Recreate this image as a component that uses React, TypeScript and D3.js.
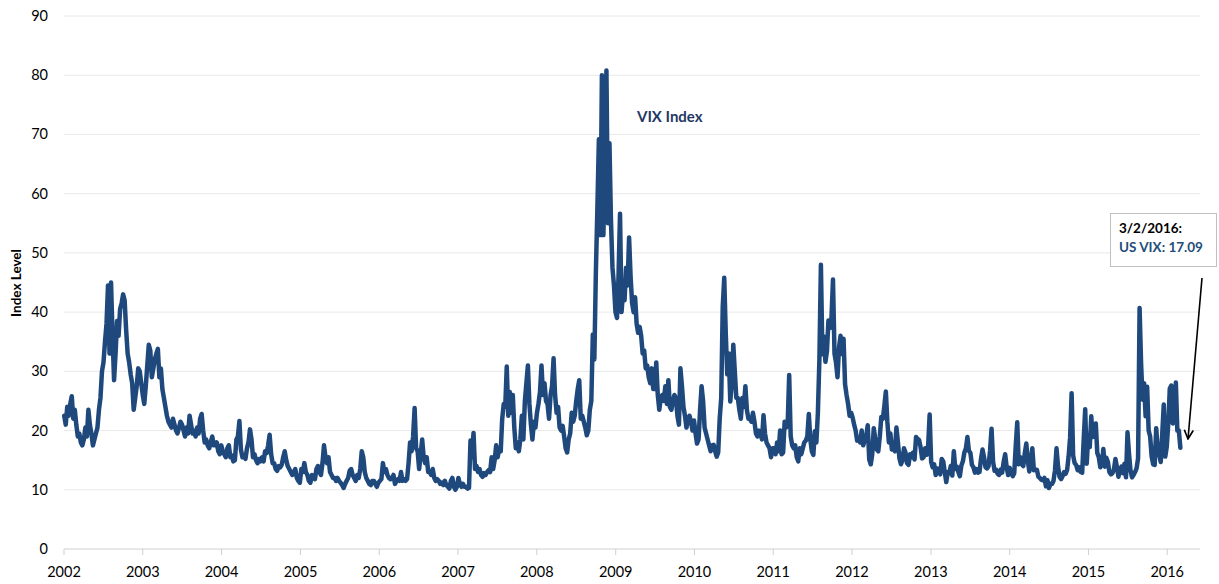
import * as d3 from "d3";
import { useEffect, useRef } from "react";

// weekly VIX readings (Wednesdays)
const vix2002 = [22.5, 21.0, 24.0, 22.5, 24.5, 25.8, 22.0, 23.5, 21.0, 19.0, 19.5, 18.0, 17.5, 18.5, 20.5, 19.0, 23.5, 21.0, 19.5, 17.5, 18.5, 19.5, 20.5, 23.5, 25.5, 30.0, 31.5, 35.0, 38.0, 44.5, 33.0, 45.0, 36.0, 28.5, 33.0, 38.5, 36.0, 40.5, 41.5, 43.0, 42.0, 37.0, 33.0, 31.5, 29.5, 28.0, 23.5, 25.5, 27.5, 30.5, 30.0, 28.0];
const vix2003 = [26.0, 24.5, 27.5, 31.0, 34.5, 33.5, 29.0, 30.5, 32.0, 33.0, 33.8, 29.0, 30.5, 27.0, 25.5, 24.0, 22.5, 21.5, 21.0, 20.5, 22.0, 21.0, 20.0, 19.5, 20.5, 21.5, 21.0, 20.0, 19.0, 20.5, 19.5, 22.5, 21.0, 19.5, 20.0, 19.0, 20.5, 19.5, 22.0, 22.8, 20.0, 18.0, 18.5, 17.5, 17.0, 18.0, 19.0, 17.5, 17.5, 18.0, 16.5, 16.0, 17.5];
const vix2004 = [16.5, 16.0, 15.5, 17.0, 17.5, 15.5, 15.8, 14.8, 15.0, 18.5, 19.0, 21.6, 16.8, 15.5, 15.8, 15.2, 17.0, 18.0, 20.2, 18.5, 15.5, 16.0, 15.0, 14.5, 15.2, 14.8, 15.5, 14.8, 16.5, 16.2, 17.5, 19.3, 16.0, 14.5, 14.5, 13.5, 13.2, 14.0, 13.8, 14.2, 15.5, 16.5, 15.0, 14.0, 13.5, 13.0, 12.5, 13.0, 13.5, 12.0, 11.5, 11.2];
const vix2005 = [13.5, 13.0, 14.5, 13.0, 12.5, 11.5, 11.2, 12.5, 12.0, 11.8, 13.5, 14.0, 13.0, 12.5, 14.5, 17.5, 15.5, 14.5, 15.5, 13.0, 12.5, 12.0, 12.0, 11.5, 12.0, 11.5, 11.2, 10.8, 10.3, 11.0, 11.5, 12.0, 13.2, 13.5, 12.5, 12.0, 11.5, 12.5, 12.0, 13.5, 16.5, 15.5, 13.0, 12.0, 11.5, 11.0, 10.8, 11.5, 11.5, 11.0, 10.5, 11.2];
const vix2006 = [11.5, 11.8, 14.5, 13.0, 13.5, 12.5, 12.0, 11.8, 12.0, 12.5, 11.0, 11.5, 11.8, 11.5, 13.0, 11.5, 11.8, 11.5, 11.8, 14.5, 18.0, 16.5, 19.0, 23.8, 17.0, 16.5, 13.5, 16.0, 18.5, 15.5, 14.5, 15.5, 13.0, 13.0, 12.5, 13.5, 12.0, 11.5, 11.8, 11.5, 11.0, 11.2, 10.8, 11.5, 10.8, 10.5, 10.2, 11.5, 12.0, 10.5, 10.0, 10.5];
const vix2007 = [12.0, 11.0, 10.5, 11.0, 10.5, 10.5, 10.2, 10.3, 18.3, 15.5, 19.6, 13.5, 14.0, 13.0, 13.5, 12.5, 12.2, 12.8, 12.5, 13.0, 13.3, 13.0, 15.5, 13.5, 15.0, 17.5, 15.5, 17.0, 16.5, 22.0, 24.5, 24.0, 30.8, 22.5, 26.5, 23.0, 26.0, 20.5, 17.0, 18.0, 16.5, 18.5, 22.5, 18.5, 25.0, 28.0, 31.0, 24.5, 21.0, 18.5, 21.5, 20.5];
const vix2008 = [23.0, 24.5, 26.5, 31.0, 26.0, 28.0, 25.0, 24.5, 22.0, 26.0, 27.5, 32.2, 26.0, 23.0, 24.0, 20.5, 20.0, 20.8, 19.0, 17.0, 16.3, 18.5, 19.5, 23.0, 21.5, 22.5, 25.0, 27.0, 28.5, 22.0, 22.5, 21.5, 20.5, 19.2, 20.0, 23.5, 25.0, 36.2, 32.0, 46.7, 57.5, 69.2, 53.0, 80.0, 53.0, 66.5, 80.8, 55.0, 68.5, 55.5, 47.5, 44.5, 40.0];
const vix2009 = [39.0, 46.0, 56.6, 40.0, 43.5, 42.0, 47.5, 44.5, 52.6, 46.0, 41.5, 40.0, 42.5, 38.0, 36.5, 37.5, 36.0, 33.0, 33.5, 30.5, 31.0, 29.0, 28.0, 30.5, 27.0, 27.0, 31.5, 26.0, 23.5, 25.5, 26.0, 25.0, 27.5, 24.5, 28.5, 24.0, 23.5, 25.0, 26.0, 25.5, 22.5, 21.0, 30.5, 27.5, 24.0, 22.5, 20.5, 22.0, 22.5, 21.5, 20.0, 21.7];
const vix2010 = [19.5, 17.8, 18.5, 23.5, 27.5, 25.0, 20.5, 19.5, 18.5, 17.5, 16.5, 17.5, 17.6, 16.5, 15.6, 16.3, 22.0, 25.5, 40.9, 45.8, 36.5, 29.5, 33.0, 24.9, 28.0, 34.5, 30.0, 25.5, 25.5, 23.5, 22.0, 25.5, 24.0, 27.5, 23.5, 22.0, 22.0, 21.5, 23.0, 21.5, 19.5, 19.0, 20.0, 19.5, 18.5, 22.6, 19.5, 18.0, 17.5, 17.0, 15.5, 17.0];
const vix2011 = [17.0, 16.0, 18.0, 16.5, 20.0, 16.0, 16.3, 21.5, 20.5, 21.0, 29.4, 19.0, 17.5, 17.0, 17.5, 15.5, 14.8, 17.0, 16.0, 17.0, 18.0, 18.3, 19.0, 22.8, 18.5, 16.5, 15.9, 19.9, 18.0, 23.0, 32.0, 48.0, 32.9, 35.9, 31.6, 33.4, 38.6, 37.3, 39.0, 45.5, 33.0, 31.5, 29.0, 34.0, 36.0, 32.9, 35.5, 27.8, 26.0, 24.5, 22.5, 23.0];
const vix2012 = [22.2, 21.0, 20.0, 18.3, 18.5, 18.0, 20.0, 17.5, 18.4, 19.0, 20.9, 15.1, 14.3, 16.0, 20.4, 18.6, 16.8, 16.5, 19.0, 22.3, 22.0, 24.1, 26.6, 21.5, 18.0, 19.5, 16.8, 17.0, 16.5, 20.5, 18.0, 15.3, 14.3, 15.0, 17.0, 16.3, 14.5, 14.2, 16.0, 15.5, 16.3, 15.1, 18.9, 18.6, 18.4, 17.2, 15.3, 15.5, 17.0, 15.9, 17.4, 22.7];
const vix2013 = [14.7, 13.8, 14.3, 12.5, 13.6, 13.4, 12.6, 15.2, 14.8, 13.0, 11.3, 13.0, 12.8, 14.0, 12.4, 16.5, 13.5, 13.9, 13.0, 12.3, 14.1, 14.8, 16.3, 17.0, 18.9, 16.6, 16.2, 14.2, 13.8, 12.9, 13.5, 12.9, 13.0, 15.2, 16.8, 15.5, 13.8, 13.6, 14.0, 16.6, 20.3, 14.7, 13.2, 13.4, 12.7, 12.5, 13.4, 12.9, 14.7, 16.0, 13.8, 12.5];
const vix2014 = [13.7, 12.9, 12.3, 12.8, 17.4, 21.4, 14.3, 15.5, 14.3, 14.0, 16.2, 17.8, 14.9, 13.1, 14.9, 17.0, 13.3, 13.4, 13.4, 12.2, 12.0, 11.7, 11.6, 12.0, 10.6, 11.6, 10.3, 11.0, 11.0, 11.5, 13.3, 17.0, 14.0, 12.2, 11.8, 12.3, 13.0, 12.7, 13.3, 15.6, 18.8, 26.3, 15.8, 14.5, 14.2, 13.3, 13.8, 13.0, 12.9, 18.5, 23.6, 14.4, 19.2];
const vix2015 = [17.2, 22.4, 18.9, 20.4, 21.2, 16.2, 15.5, 13.8, 14.2, 16.9, 13.9, 15.4, 14.7, 13.0, 12.6, 12.8, 13.4, 15.2, 13.8, 12.2, 13.3, 13.9, 12.8, 14.4, 12.1, 19.7, 16.1, 13.2, 12.1, 12.5, 13.0, 13.6, 15.3, 40.7, 31.3, 25.2, 28.0, 22.4, 27.4, 20.0, 19.0, 15.6, 14.3, 14.2, 20.4, 16.9, 15.9, 14.7, 19.4, 24.4, 15.6, 17.3];
const vix2016 = [21.2, 27.1, 27.6, 21.2, 21.7, 28.1, 20.0, 20.0, 17.09];

const years = [2002, 2003, 2004, 2005, 2006, 2007, 2008, 2009, 2010, 2011, 2012, 2013, 2014, 2015, 2016];
const yearValues = [vix2002, vix2003, vix2004, vix2005, vix2006, vix2007, vix2008, vix2009, vix2010, vix2011, vix2012, vix2013, vix2014, vix2015, vix2016];
const yTicks = [0, 10, 20, 30, 40, 50, 60, 70, 80, 90];

const FONT = "Lato, 'Open Sans', sans-serif";
const BLUE = "#1f497d";

function App() {
  const ref = useRef<SVGSVGElement | null>(null);

  useEffect(() => {
    const svg = d3.select(ref.current);
    svg.selectAll("*").remove();

    const data: { date: Date; value: number }[] = [];
    years.forEach((y, k) => {
      const weds = d3.timeWednesday.range(new Date(y, 0, 1), new Date(y + 1, 0, 1));
      yearValues[k].forEach((v, i) => data.push({ date: weds[i], value: v }));
    });

    const x = d3.scaleTime()
      .domain([new Date(2002, 0, 1), new Date(2016, 5, 1)])
      .range([64, 1200]);
    const y = d3.scaleLinear().domain([0, 90]).range([549, 16]);

    // gridlines
    svg.append("g")
      .selectAll("line")
      .data(yTicks)
      .join("line")
      .attr("x1", 64)
      .attr("x2", 1200)
      .attr("y1", d => y(d))
      .attr("y2", d => y(d))
      .attr("stroke", d => d === 0 ? "#d0d0d0" : "#e8e8e8")
      .attr("stroke-width", 1);

    // y labels
    svg.append("g")
      .selectAll("text")
      .data(yTicks)
      .join("text")
      .attr("x", 48)
      .attr("y", d => y(d) + 5)
      .attr("text-anchor", "end")
      .attr("font-family", FONT)
      .attr("font-size", "14.5px")
      .attr("fill", "#000")
      .text(d => d);

    // x ticks + labels
    const xTicks = years.map(yr => new Date(yr, 0, 1));
    svg.append("g")
      .selectAll("line")
      .data(xTicks)
      .join("line")
      .attr("x1", d => x(d))
      .attr("x2", d => x(d))
      .attr("y1", 549)
      .attr("y2", 555)
      .attr("stroke", "#d0d0d0");
    svg.append("g")
      .selectAll("text")
      .data(xTicks)
      .join("text")
      .attr("x", d => x(d))
      .attr("y", 577)
      .attr("text-anchor", "middle")
      .attr("font-family", FONT)
      .attr("font-size", "14.5px")
      .attr("fill", "#000")
      .text(d => d3.timeFormat("%Y")(d));

    // axis title
    svg.append("text")
      .attr("transform", "translate(21,283) rotate(-90)")
      .attr("text-anchor", "middle")
      .attr("font-family", FONT)
      .attr("font-weight", "bold")
      .attr("font-size", "13.5px")
      .text("Index Level");

    // the series
    const line = d3.line<{ date: Date; value: number }>()
      .x(d => x(d.date))
      .y(d => y(d.value));
    svg.append("path")
      .datum(data)
      .attr("d", line)
      .attr("fill", "none")
      .attr("stroke", BLUE)
      .attr("stroke-width", 4.5)
      .attr("stroke-linejoin", "round")
      .attr("stroke-linecap", "round");

    svg.append("text")
      .attr("x", 637)
      .attr("y", 122)
      .attr("font-family", FONT)
      .attr("font-weight", "bold")
      .attr("font-size", "15px")
      .attr("fill", "#1f3864")
      .text("VIX Index");

    // callout
    svg.append("rect")
      .attr("x", 1110.5)
      .attr("y", 213.5)
      .attr("width", 106)
      .attr("height", 53)
      .attr("fill", "#fff")
      .attr("stroke", "#bfbfbf");
    svg.append("text")
      .attr("x", 1119)
      .attr("y", 233)
      .attr("font-family", FONT)
      .attr("font-weight", "bold")
      .attr("font-size", "13.5px")
      .attr("fill", "#000")
      .text("3/2/2016:");
    svg.append("text")
      .attr("x", 1119)
      .attr("y", 252)
      .attr("font-family", FONT)
      .attr("font-weight", "bold")
      .attr("font-size", "13.5px")
      .attr("fill", "#1f4e79")
      .text("US VIX: 17.09");

    svg.append("defs")
      .append("marker")
      .attr("id", "arrow")
      .attr("viewBox", "0 0 10 10")
      .attr("refX", 9)
      .attr("refY", 5)
      .attr("markerWidth", 7)
      .attr("markerHeight", 7)
      .attr("orient", "auto")
      .append("path")
      .attr("d", "M1,1 L9,5 L1,9")
      .attr("fill", "none")
      .attr("stroke", "#000")
      .attr("stroke-width", 1.5);
    svg.append("line")
      .attr("x1", 1202)
      .attr("y1", 278)
      .attr("x2", 1188)
      .attr("y2", 439)
      .attr("stroke", "#000")
      .attr("stroke-width", 1.6)
      .attr("marker-end", "url(#arrow)");
  }, []);

  return (
    <svg
      ref={ref}
      width={1219}
      height={584}
      style={{ position: "absolute", left: 0, top: 0, background: "#fff" }}
    ></svg>
  );
}

export default App;
